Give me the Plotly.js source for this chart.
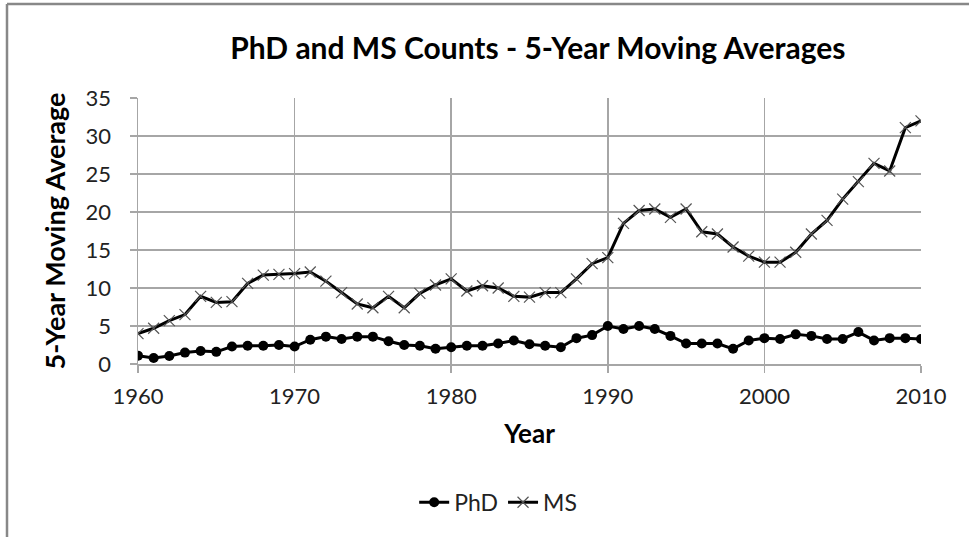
<!DOCTYPE html>
<html>
<head>
<meta charset="utf-8">
<script src="https://cdn.plot.ly/plotly-3.0.1.min.js"></script>
<style>html,body{margin:0;padding:0;background:#fff;}#chart{width:969px;height:537px;}</style>
</head>
<body>
<div id="chart"></div>
<script>
const years = [1960,1961,1962,1963,1964,1965,1966,1967,1968,1969,1970,1971,1972,1973,1974,1975,1976,1977,1978,1979,1980,1981,1982,1983,1984,1985,1986,1987,1988,1989,1990,1991,1992,1993,1994,1995,1996,1997,1998,1999,2000,2001,2002,2003,2004,2005,2006,2007,2008,2009,2010];
const phd = [1.1,0.8,1.05,1.5,1.7,1.6,2.3,2.4,2.4,2.5,2.3,3.2,3.6,3.3,3.6,3.6,3.0,2.5,2.4,2.0,2.2,2.4,2.4,2.7,3.1,2.6,2.4,2.2,3.4,3.8,5.0,4.6,5.0,4.6,3.7,2.7,2.7,2.7,2.0,3.1,3.4,3.3,3.9,3.7,3.3,3.3,4.2,3.1,3.4,3.4,3.3];
const ms = [4.0,4.7,5.7,6.5,8.9,8.1,8.2,10.6,11.7,11.8,11.9,12.1,10.9,9.4,7.9,7.4,8.9,7.4,9.3,10.4,11.2,9.6,10.3,10.0,8.9,8.8,9.4,9.4,11.2,13.2,14.0,18.5,20.2,20.4,19.3,20.4,17.4,17.1,15.4,14.2,13.4,13.4,14.7,17.1,18.9,21.7,24.0,26.4,25.4,31.1,32.0];
const seriesNames = ['PhD','MS'];
const xTicks = [1960,1970,1980,1990,2000,2010];

const FONT = 'Lato, "Open Sans", "DejaVu Sans", sans-serif';
const traces = [
  {x: years, y: phd, name: seriesNames[0], type: 'scatter', mode: 'lines+markers',
   line: {color: '#000', width: 3},
   marker: {symbol: 'circle', size: 10, color: '#000'}},
  {x: years, y: ms, name: seriesNames[1], type: 'scatter', mode: 'lines+markers',
   line: {color: '#000', width: 3},
   marker: {symbol: 'x-thin', size: 11, color: '#000', line: {color: '#555', width: 1.2}}}
];
const layout = {
  width: 969, height: 537,
  paper_bgcolor: '#fff', plot_bgcolor: '#fff',
  margin: {l: 138, r: 48, t: 98, b: 173},
  font: {family: FONT, color: '#000'},
  title: {text: '<b>PhD and MS Counts - 5-Year Moving Averages</b>', font: {family: FONT, size: 30, color: '#000'},
          x: 0.555, xanchor: 'center', y: 0.91, yanchor: 'middle'},
  xaxis: {range: [1960, 2010], tickmode: 'array', tickvals: xTicks,
          showgrid: true, gridcolor: '#a6a6a6', gridwidth: 1.5,
          showline: true, linecolor: '#a6a6a6', linewidth: 1.5,
          ticks: 'outside', ticklen: 7, tickcolor: '#a6a6a6', tickwidth: 1.5,
          ticklabelstandoff: 5,
          tickfont: {family: FONT, size: 22, color: '#222'}, zeroline: false,
          title: {text: '<b>Year</b>', font: {family: FONT, size: 26, color: '#000'}, standoff: 17}},
  yaxis: {range: [0, 35], tickmode: 'linear', tick0: 0, dtick: 5,
          showgrid: true, gridcolor: '#a6a6a6', gridwidth: 1.5,
          showline: true, linecolor: '#a6a6a6', linewidth: 1.5,
          ticks: 'outside', ticklen: 7, tickcolor: '#a6a6a6', tickwidth: 1.5,
          ticklabelstandoff: 14,
          tickfont: {family: FONT, size: 22, color: '#222'}, zeroline: false,
          title: {text: '<b>5-Year Moving Average</b>', font: {family: FONT, size: 27, color: '#000'}, standoff: 12}},
  showlegend: true,
  legend: {orientation: 'h', x: 0.46, xanchor: 'center', y: -0.52, yanchor: 'middle',
           font: {family: FONT, size: 23, color: '#222'}, bgcolor: 'rgba(0,0,0,0)'}
};
const pw = 969 - 138 - 48, ph = 537 - 98 - 173;
const xLeft = (7 - 138) / pw;
const yTop = (537 - 173 - 4) / ph;
const yBottom = (537 - 173 - 537) / ph;
layout.shapes = [
  {type: 'line', xref: 'paper', yref: 'paper', x0: xLeft, x1: xLeft, y0: yBottom, y1: yTop, line: {color: '#888', width: 2.5}},
  {type: 'line', xref: 'paper', yref: 'paper', x0: xLeft, x1: (969 - 138) / pw, y0: yTop, y1: yTop, line: {color: '#888', width: 2.5}}
];
Plotly.newPlot('chart', traces, layout, {displayModeBar: false, staticPlot: true});
</script>
</body>
</html>
